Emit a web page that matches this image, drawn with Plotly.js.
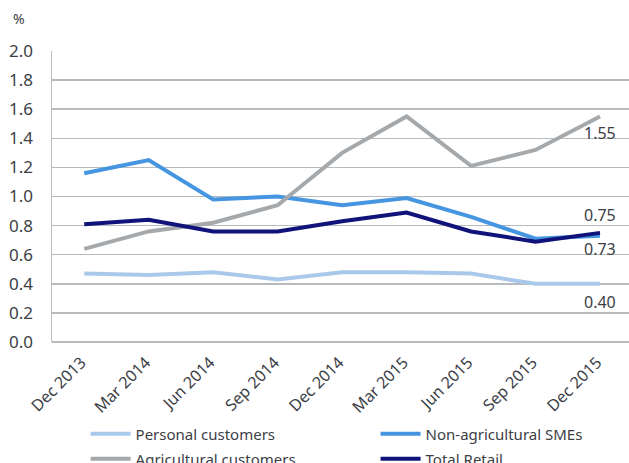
<!DOCTYPE html>
<html><head><meta charset="utf-8">
<script src="https://cdn.plot.ly/plotly-3.0.1.min.js"></script>
<style>html,body{margin:0;padding:0;background:#fff}#chart{width:629px;height:463px}</style>
</head><body><div id="chart"></div>
<script>
const categories = ["Dec 2013","Mar 2014","Jun 2014","Sep 2014","Dec 2014","Mar 2015","Jun 2015","Sep 2015","Dec 2015"];
const personal = [0.47,0.46,0.48,0.43,0.48,0.48,0.47,0.40,0.40];
const smes = [1.16,1.25,0.98,1.00,0.94,0.99,0.86,0.71,0.73];
const agricultural = [0.64,0.76,0.82,0.94,1.30,1.55,1.21,1.32,1.55];
const totalRetail = [0.81,0.84,0.76,0.76,0.83,0.89,0.76,0.69,0.75];
const yTicks = [0,0.2,0.4,0.6,0.8,1.0,1.2,1.4,1.6,1.8,2.0];

const textColor = '#3c4046';
const font = "'Noto Sans', 'Open Sans', sans-serif";

function tr(name, y, color, lg){
  return {x: categories, y: y, name: name, type:'scatter', mode:'lines', legend: lg,
    line:{color: color, width: 4}, hoverinfo:'skip'};
}
const data = [
  tr('Personal customers', personal, '#a9c9ea', 'legend'),
  tr('Non-agricultural SMEs', smes, '#4595e1', 'legend'),
  tr('Agricultural customers', agricultural, '#a6a9ac', 'legend2'),
  tr('Total Retail', totalRetail, '#10137a', 'legend2')
];
const last = categories.length - 1;
function lab(v, shift){
  return {x: categories[last], y: v, xref:'x', yref:'y', text: v.toFixed(2), showarrow:false,
    yshift: shift, font:{size:16, color:textColor, family:font}};
}
const legendBase = {orientation:'h', x:0.0582, xanchor:'left', yanchor:'middle',
  entrywidth:235, entrywidthmode:'pixels', font:{size:15, color:textColor, family:font},
  traceorder:'normal', itemwidth:40, bgcolor:'rgba(0,0,0,0)'};
const layout = {
  width:629, height:463,
  margin:{l:52, r:0, t:51, b:121, autoexpand:false},
  paper_bgcolor:'#fff', plot_bgcolor:'#fff',
  font:{family:font, color:textColor},
  showlegend:true,
  legend: Object.assign({}, legendBase, {y:-0.316}),
  legend2: Object.assign({}, legendBase, {y:-0.402}),
  xaxis:{type:'category', range:[-0.5, 8.45], showgrid:false, zeroline:false, showline:false,
    tickangle:-45, tickfont:{size:16, color:textColor, family:font}, ticks:'', fixedrange:true,
    ticklabelstandoff:7, ticklabelshift:-3},
  yaxis:{range:[0,2.0], tickvals:yTicks, ticktext:yTicks.map(v=>v.toFixed(1)),
    showgrid:true, gridcolor:'#b7bbbe', gridwidth:1.5, zeroline:true, zerolinecolor:'#b7bbbe', zerolinewidth:1.5,
    showline:true, linecolor:'#b7bbbe', linewidth:1.5, ticks:'', ticklabelstandoff:14,
    tickfont:{size:17, color:textColor, family:font}, fixedrange:true},
  annotations:[
    {x:0, y:1, xref:'paper', yref:'paper', xshift:-41, yshift:33, xanchor:'left', yanchor:'middle',
      text:'%', showarrow:false, font:{size:14, color:textColor, family:font}},
    lab(agricultural[last], -17),
    lab(totalRetail[last], 18),
    lab(smes[last], -13),
    lab(personal[last], -18)
  ]
};
Plotly.newPlot('chart', data, layout, {displayModeBar:false, staticPlot:true});
</script></body></html>
